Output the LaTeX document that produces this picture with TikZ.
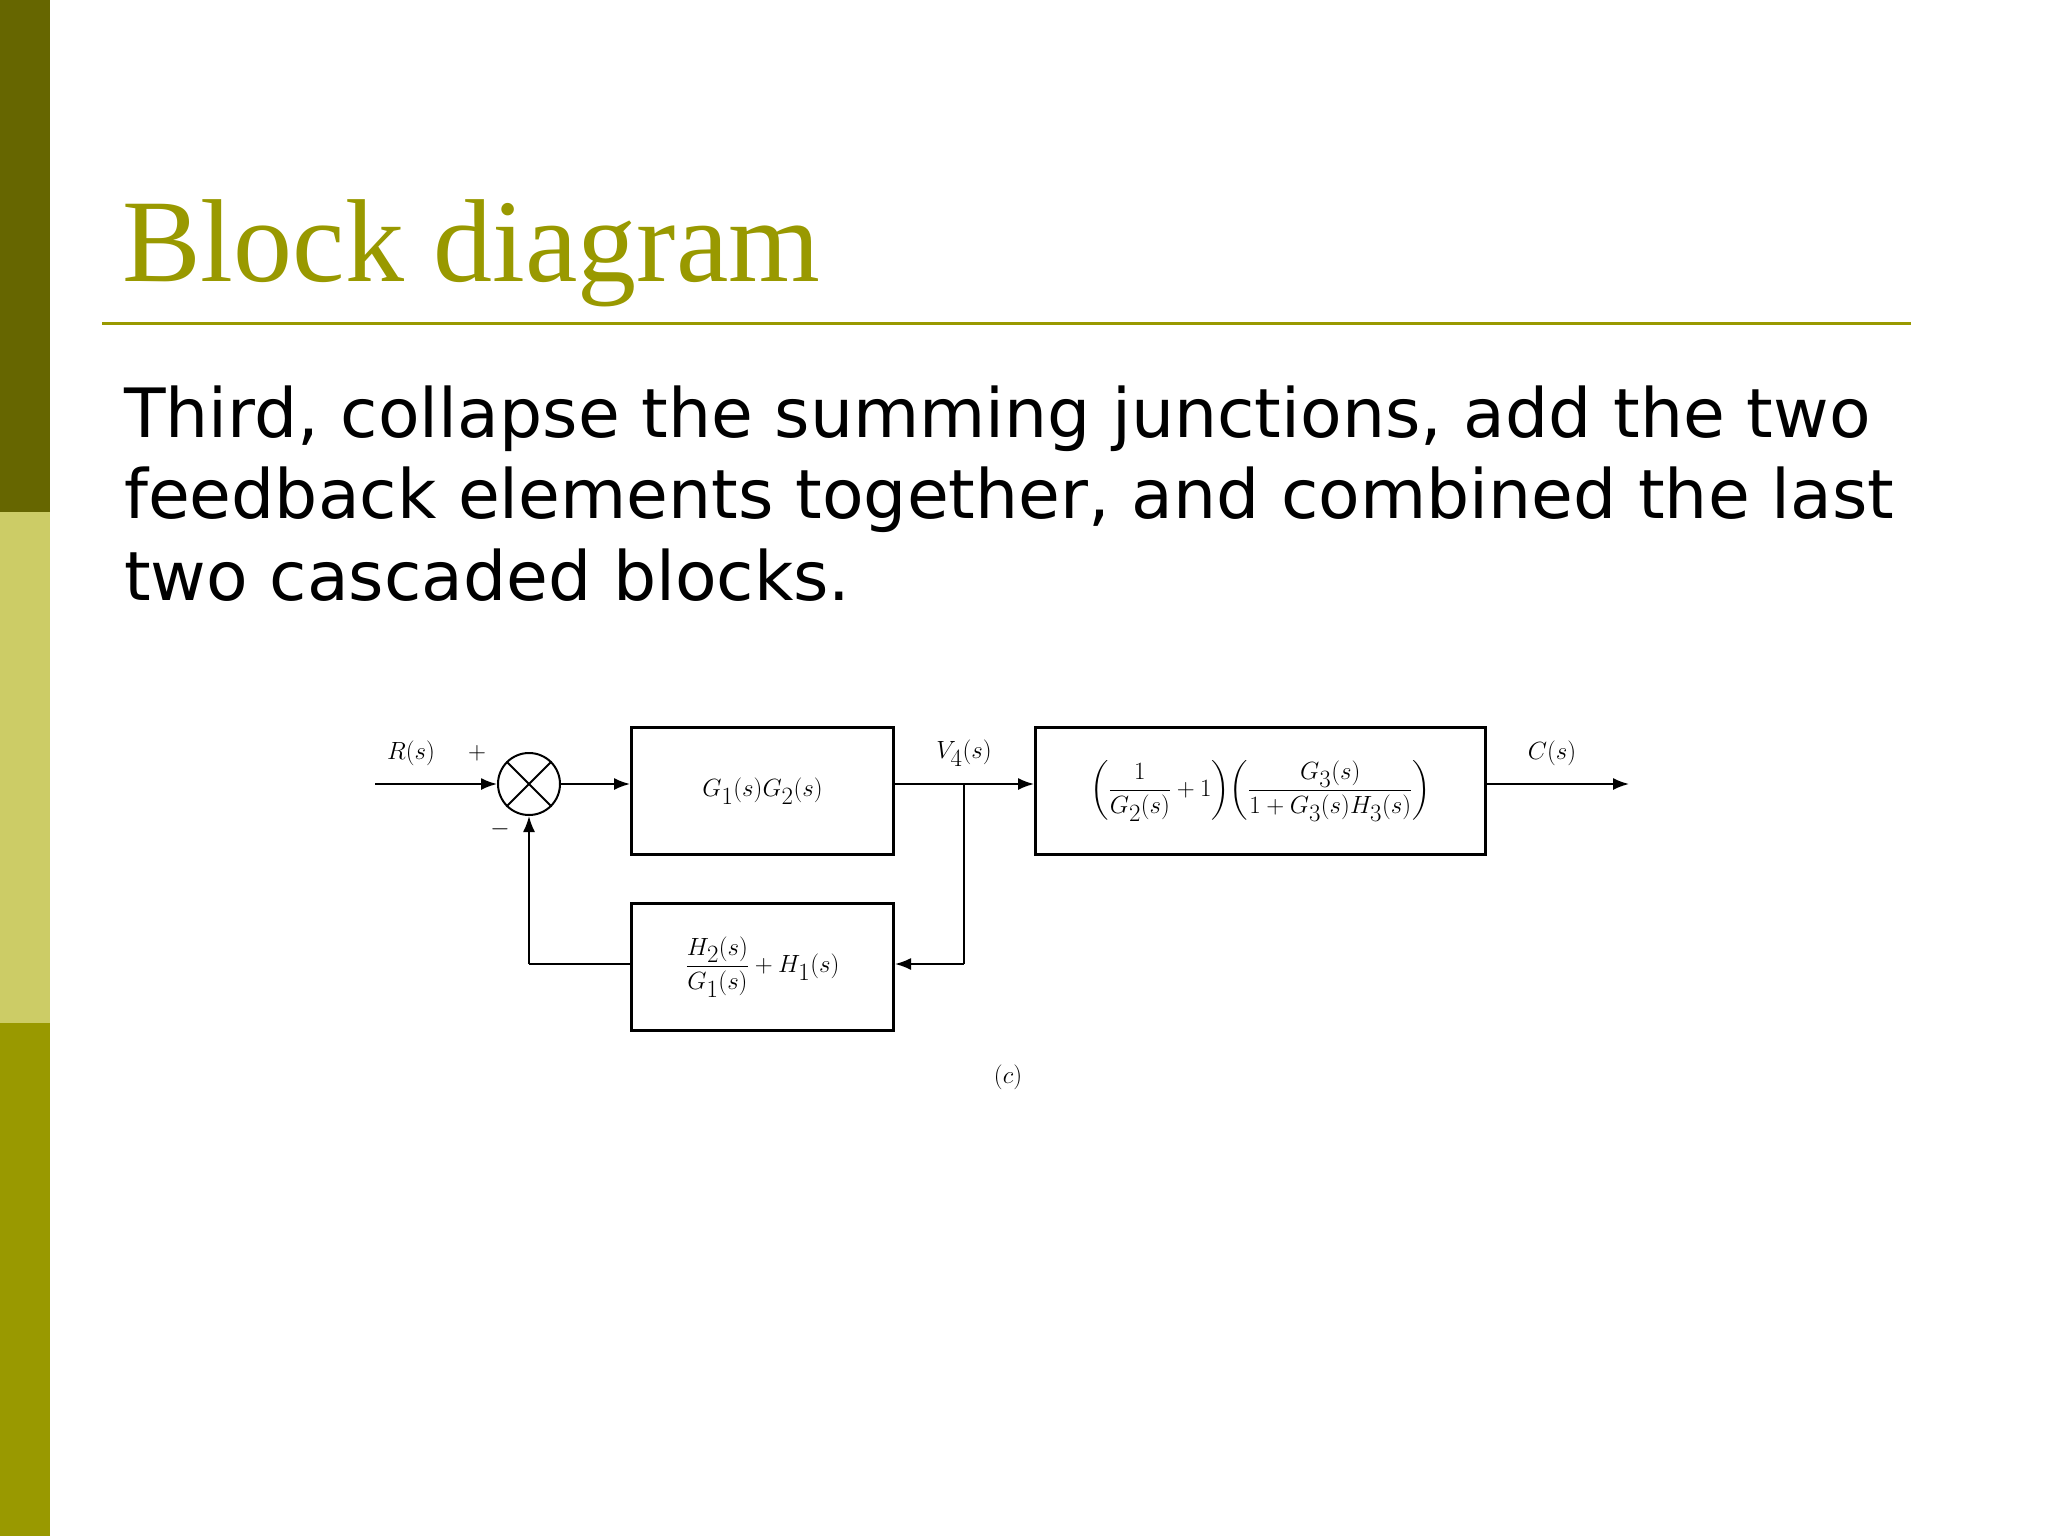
\documentclass[tikz,border=0pt]{standalone}
\usepackage{fontspec}
\usepackage{amsmath}
\newfontfamily\bodyfont{DejaVu Sans}
\newfontfamily\titlefont{Liberation Serif}
\usetikzlibrary{arrows.meta}
\definecolor{darkol}{HTML}{666600}
\definecolor{lightol}{HTML}{CCCC66}
\definecolor{midol}{HTML}{999900}
\begin{document}
\begin{tikzpicture}[x=1pt,y=-1pt,
  blk/.style={draw,line width=3pt,minimum width=262pt,minimum height=127pt,inner sep=0pt,font=\fontsize{44}{48}\selectfont},
  sig/.style={line width=1.8pt},
  arr/.style={sig,-{Latex[length=16pt,width=12pt]}},
  lbl/.style={font=\fontsize{42}{46}\selectfont},
  bodyline/.style={anchor=base west,inner sep=0pt,font=\bodyfont\fontsize{68}{80}\selectfont}]
\useasboundingbox (0,0) rectangle (2048,1536);
\fill[white] (0,0) rectangle (2048,1536);
\fill[darkol] (0,0) rectangle (50,512);
\fill[lightol] (0,512) rectangle (50,1023);
\fill[midol] (0,1023) rectangle (50,1536);
\node[anchor=base west,inner sep=0pt,text=midol,font=\titlefont\fontsize{118}{124}\selectfont] (title) at (122,281) {Block diagram};
\draw[midol,line width=3pt] (102,323) -- (1911,323);
\node[bodyline] (l1) at (124,437) {Third, collapse the summing junctions, add the two};
\node[bodyline] (l2) at (124,518) {feedback elements together, and combined the last};
\node[bodyline] (l3) at (124,600) {two cascaded blocks.};
% diagram
\coordinate (rin) at (375,784);
\node[draw,circle,line width=2pt,minimum size=62pt,inner sep=0pt] (sum) at (529,784) {};
\draw[line width=1.8pt] (sum.north west) -- (sum.south east) (sum.north east) -- (sum.south west);
\node[blk,anchor=north west] (b1) at (630,726) {$G_1(s)G_2(s)$};
\node[blk,anchor=north west,minimum width=450pt,font=\fontsize{41}{44}\selectfont] (b2) at (1034,726) {$\displaystyle\left(\frac{1}{G_2(s)}+1\right)\!\left(\frac{G_3(s)}{1+G_3(s)H_3(s)}\right)$};
\node[blk,anchor=north west] (fb) at (630,902) {$\displaystyle\frac{H_2(s)}{G_1(s)}+H_1(s)$};
\coordinate (br) at (964,784);
\coordinate (brd) at (964,964);
\coordinate (fl) at (529,964);
\coordinate (cout) at (1629,784);
\draw[arr] (rin) -- (sum.west);
\draw[arr] (sum.east) -- (b1.west |- sum);
\draw[sig] (b1.east |- br) -- (br);
\draw[arr] (br) -- (b2.west |- br);
\draw[arr] (b2.east |- cout) -- (cout);
\draw[sig] (br) -- (brd);
\draw[arr] (brd) -- (fb.east |- brd);
\draw[sig] (fb.west |- fl) -- (fl);
\draw[arr] (fl) -- (sum.south);
\node[lbl] (lr) at (411,753) {$R(s)$};
\node[lbl] (lp) at (477,753) {$+$};
\node[lbl] (lm) at (500,829) {$-$};
\node[lbl] (lv) at (964,753) {$V_4(s)$};
\node[lbl] (lc) at (1552,753) {$C(s)$};
\node[lbl] (lcap) at (1008,1077) {$(c)$};
\end{tikzpicture}
\end{document}
